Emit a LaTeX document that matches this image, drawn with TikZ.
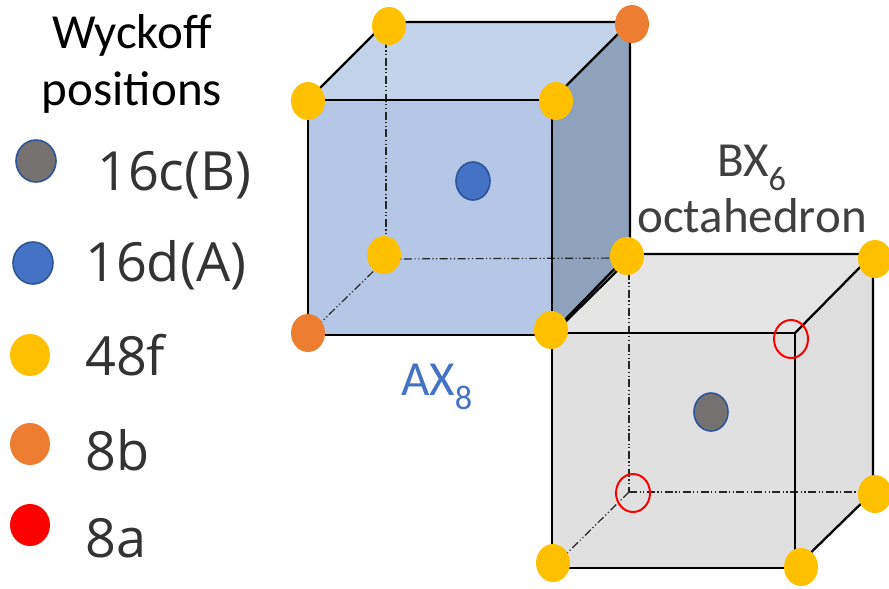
\documentclass[tikz,border=0pt]{standalone}
\usepackage{fontspec}
\setmainfont{Carlito}
\newfontfamily\legendfont{Open Sans}
\usetikzlibrary{shapes.geometric}
\definecolor{siteyellow}{HTML}{FFC000}
\definecolor{siteorange}{HTML}{ED7D31}
\definecolor{siteblue}{HTML}{4472C4}
\definecolor{sitegray}{HTML}{767171}
\definecolor{siteedge}{HTML}{2F5597}
\definecolor{axfront}{HTML}{B4C7E7}
\definecolor{axtop}{HTML}{C3D3EC}
\definecolor{axside}{HTML}{8FA2BD}
\definecolor{bxfront}{HTML}{E0E0E0}
\definecolor{bxtop}{HTML}{E5E5E5}
\definecolor{bxside}{HTML}{DFDFDF}
\tikzset{
  atom/.style={ellipse, inner sep=0pt, minimum width=34pt, minimum height=38pt},
  yatom/.style={atom, fill=siteyellow},
  oatom/.style={atom, fill=siteorange},
  batom/.style={atom, fill=siteblue, draw=siteedge, line width=1.6pt},
  gatom/.style={atom, fill=sitegray, draw=siteedge, line width=1.6pt},
  vacant/.style={atom, draw=red, line width=2pt},
  legatom/.style={minimum width=40pt, minimum height=42pt},
  edge/.style={draw=black, line width=2.3pt},
  hidden/.style={draw=black!85, line width=1.2pt, dash pattern=on 8pt off 2.5pt on 1.2pt off 2.5pt on 1.2pt off 2.5pt},
  head/.style={inner sep=0pt, anchor=base, font=\fontsize{49}{49}\selectfont},
  lbl/.style={inner sep=0pt, anchor=base west, font=\legendfont\fontsize{54}{54}\selectfont, text=black!80}
}
\begin{document}
\begin{tikzpicture}[x=1pt, y=-1pt]
  \useasboundingbox (0,0) rectangle (889,589);
  % AX8 cube corners
  \coordinate (aa) at (308,100);
  \coordinate (ab) at (552,100);
  \coordinate (ac) at (552,335);
  \coordinate (ad) at (308,335);
  \coordinate (ae) at (386,22);
  \coordinate (af) at (630,22);
  \coordinate (ag) at (630,258);
  \coordinate (ah) at (386,259);
  % BX6 cube corners
  \coordinate (ba) at (552,333);
  \coordinate (bb) at (795,333);
  \coordinate (bc) at (795,568);
  \coordinate (bd) at (552,568);
  \coordinate (be) at (629,254);
  \coordinate (bf) at (873,254);
  \coordinate (bg) at (873,492);
  \coordinate (bh) at (629,492);
  % faces
  \fill[axfront] (aa) -- (ab) -- (ac) -- (ad) -- cycle;
  \fill[axtop] (aa) -- (ae) -- (af) -- (ab) -- cycle;
  \fill[axside] (ab) -- (af) -- (ag) -- (ac) -- cycle;
  \fill[bxfront] (ba) -- (bb) -- (bc) -- (bd) -- cycle;
  \fill[bxtop] (ba) -- (be) -- (bf) -- (bb) -- cycle;
  \fill[bxside] (bb) -- (bf) -- (bg) -- (bc) -- cycle;
  % hidden edges
  \draw[hidden] (ae) -- (ah);
  \draw[hidden] (ah) -- (ag);
  \draw[hidden] (ah) -- (ad);
  \draw[hidden] (be) -- (bh);
  \draw[hidden] (bh) -- (bg);
  \draw[hidden] (bh) -- (bd);
  % visible edges
  \draw[edge] (aa) -- (ab) -- (ac) -- (ad) -- cycle;
  \draw[edge] (aa) -- (ae) -- (af) -- (ab);
  \draw[edge] (af) -- (ag) -- (ac);
  \draw[edge] (ba) -- (bb) -- (bc) -- (bd) -- cycle;
  \draw[edge] (ba) -- (be) -- (bf) -- (bb);
  \draw[edge] (bf) -- (bg) -- (bc);
  % atoms on the cubes
  \node[yatom] (a1) at (389,26) {};
  \node[oatom] (a2) at (632,24) {};
  \node[yatom] (a3) at (308,101) {};
  \node[yatom] (a4) at (556,101) {};
  \node[yatom] (a5) at (384,255) {};
  \node[yatom] (a6) at (627,256) {};
  \node[yatom] (a7) at (551,330) {};
  \node[oatom] (a8) at (308,333) {};
  \node[batom] (acentre) at (473,181) {};
  \node[yatom] (b1) at (875,259) {};
  \node[yatom] (b2) at (553,563) {};
  \node[yatom] (b3) at (801,567) {};
  \node[yatom] (b4) at (875,494) {};
  \node[vacant] (b5) at (791,339) {};
  \node[vacant] (b6) at (633,493) {};
  \node[gatom] (bcentre) at (711,412) {};
  % labels
  \node[head, text=siteblue] (axlabel) at (437,395) {AX\textsubscript{8}};
  \node[head, text=black!75] (bxlabel) at (752,176) {BX\textsubscript{6}};
  \node[head, text=black!75] (octlabel) at (752,232) {octahedron};
  % legend
  \node[head] (title1) at (132,48) {Wyckoff};
  \node[head] (title2) at (132,105) {positions};
  \node[gatom, legatom] (leg1) at (36,161) {};
  \node[batom, legatom] (leg2) at (33,263) {};
  \node[yatom, legatom] (leg3) at (30,355) {};
  \node[oatom, legatom] (leg4) at (30,444) {};
  \node[atom, legatom, fill=red] (leg5) at (30,525) {};
  \node[lbl] (txt1) at (97,190) {16c(B)};
  \node[lbl] (txt2) at (85,281) {16d(A)};
  \node[lbl] (txt3) at (85,375) {48f};
  \node[lbl] (txt4) at (85,470) {8b};
  \node[lbl] (txt5) at (85,557) {8a};
\end{tikzpicture}
\end{document}
